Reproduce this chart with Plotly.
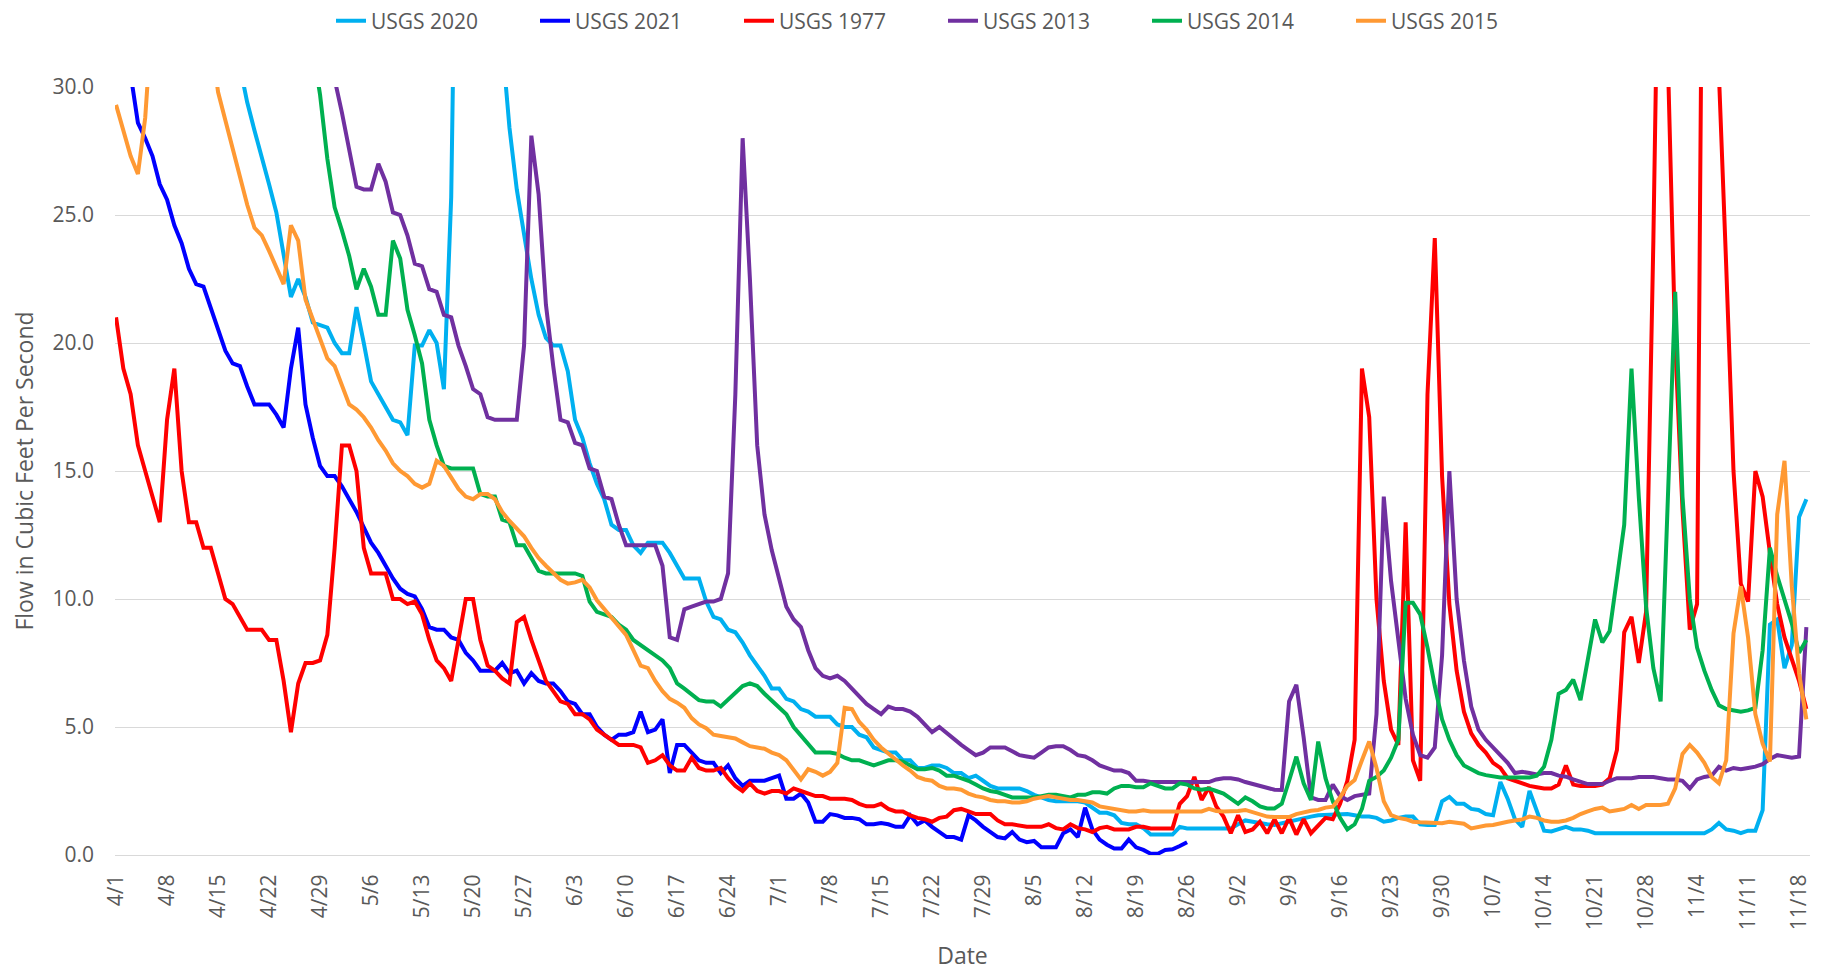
import pandas as pd
import plotly.graph_objects as go

# ---------------- data (daily flow, cfs) from 4/1 to 11/19 ----------------
start_date = "2021-04-01"
n_days = 233

usgs_2020 = [
    45, 44, 43, 42, 41, 40, 39, 40, 41, 39,
    38, 37, 36, 35, 34, 33, 32, 30.8, 29.4, 28.3,
    27.3, 26.2, 25.1, 23.4, 21.8, 22.5, 21.8, 20.8, 20.7, 20.6,
    20.0, 19.6, 19.6, 21.4, 20.0, 18.5, 18.0, 17.5, 17.0, 16.9,
    16.4, 19.9, 19.9, 20.5, 20.0, 18.2, 25.7, 45.0, 50.0, 47.0,
    42.0, 38.0, 35.0, 31.5, 28.4, 26.0, 24.2, 22.5, 21.1, 20.2,
    19.9, 19.9, 18.9, 17.0, 16.3, 15.3, 14.5, 13.9, 12.9, 12.7,
    12.7, 12.1, 11.8, 12.2, 12.2, 12.2, 11.8, 11.3, 10.8, 10.8,
    10.8, 9.9, 9.3, 9.2, 8.8, 8.7, 8.3, 7.8, 7.4, 7.0,
    6.5, 6.5, 6.1, 6.0, 5.7, 5.6, 5.4, 5.4, 5.4, 5.1,
    5.0, 5.0, 4.7, 4.6, 4.2, 4.1, 4.0, 4.0, 3.7, 3.7,
    3.4, 3.4, 3.5, 3.5, 3.4, 3.2, 3.2, 3.0, 3.1, 2.9,
    2.7, 2.6, 2.6, 2.6, 2.6, 2.5, 2.35, 2.25, 2.15, 2.1,
    2.1, 2.1, 2.1, 2.05, 1.85, 1.65, 1.65, 1.55, 1.25, 1.2,
    1.2, 1.05, 0.8, 0.8, 0.78, 0.8, 1.1, 1.04, 1.04, 1.04,
    1.04, 1.04, 1.04, 1.04, 1.2, 1.35, 1.3, 1.24, 1.2, 1.17,
    1.24, 1.3, 1.4, 1.43, 1.5, 1.55, 1.56, 1.56, 1.6, 1.6,
    1.55, 1.5, 1.5, 1.45, 1.3, 1.35, 1.45, 1.5, 1.5, 1.2,
    1.17, 1.17, 2.1, 2.27, 2.0, 2.0, 1.8, 1.76, 1.6, 1.55,
    2.85, 2.2, 1.4, 1.1, 2.5, 1.7, 0.95, 0.92, 1.0, 1.1,
    1.0, 1.0, 0.95, 0.85, 0.85, 0.85, 0.85, 0.85, 0.85, 0.85,
    0.85, 0.85, 0.85, 0.85, 0.85, 0.85, 0.85, 0.85, 0.85, 1.0,
    1.25, 1.0, 0.95, 0.85, 0.95, 0.95, 1.75, 9.0, 9.2, 7.3,
    8.2, 13.2, 13.9,
]

usgs_2021 = [
    34, 32.5, 30.5, 28.6, 28.0, 27.3, 26.2, 25.6, 24.6, 23.9,
    22.9, 22.3, 22.2, 21.4, 20.6, 19.7, 19.2, 19.1, 18.3, 17.6,
    17.6, 17.6, 17.2, 16.7, 19.0, 20.6, 17.6, 16.3, 15.2, 14.8,
    14.8, 14.4, 13.9, 13.4, 12.8, 12.2, 11.8, 11.3, 10.8, 10.4,
    10.2, 10.1, 9.6, 8.9, 8.8, 8.8, 8.5, 8.4, 7.9, 7.6,
    7.2, 7.2, 7.2, 7.5, 7.1, 7.2, 6.7, 7.1, 6.8, 6.7,
    6.7, 6.4, 6.0, 5.9, 5.5, 5.5, 5.0, 4.7, 4.5, 4.7,
    4.7, 4.8, 5.6, 4.8, 4.9, 5.3, 3.2, 4.3, 4.3, 4.0,
    3.7, 3.6, 3.6, 3.2, 3.5, 3.0, 2.7, 2.9, 2.9, 2.9,
    3.0, 3.1, 2.2, 2.2, 2.4, 2.05, 1.3, 1.3, 1.6, 1.55,
    1.45, 1.45, 1.4, 1.2, 1.2, 1.25, 1.2, 1.1, 1.1, 1.55,
    1.2, 1.35, 1.1, 0.9, 0.7, 0.7, 0.6, 1.55, 1.35, 1.1,
    0.9, 0.7, 0.65, 0.9, 0.6, 0.5, 0.55, 0.3, 0.3, 0.3,
    0.85, 1.0, 0.7, 1.85, 1.0, 0.6, 0.4, 0.25, 0.25, 0.6,
    0.3, 0.2, 0.05, 0.05, 0.2, 0.22, 0.35, 0.5,
]

usgs_1977 = [
    21.0, 19.0, 18.0, 16.0, 15.0, 14.0, 13.0, 17.0, 19.0, 15.0,
    13.0, 13.0, 12.0, 12.0, 11.0, 10.0, 9.8, 9.3, 8.8, 8.8,
    8.8, 8.4, 8.4, 6.8, 4.8, 6.7, 7.5, 7.5, 7.6, 8.6,
    12.0, 16.0, 16.0, 15.0, 12.0, 11.0, 11.0, 11.0, 10.0, 10.0,
    9.8, 9.9, 9.4, 8.4, 7.6, 7.3, 6.8, 8.4, 10.0, 10.0,
    8.4, 7.4, 7.2, 6.9, 6.7, 9.1, 9.3, 8.4, 7.6, 6.8,
    6.4, 6.0, 5.9, 5.5, 5.5, 5.3, 4.9, 4.7, 4.5, 4.3,
    4.3, 4.3, 4.2, 3.6, 3.7, 3.9, 3.5, 3.3, 3.3, 3.8,
    3.4, 3.3, 3.3, 3.4, 3.0, 2.7, 2.5, 2.8, 2.5, 2.4,
    2.5, 2.5, 2.4, 2.6, 2.5, 2.4, 2.3, 2.3, 2.2, 2.2,
    2.2, 2.15, 2.0, 1.9, 1.9, 2.0, 1.8, 1.7, 1.7, 1.55,
    1.45, 1.4, 1.3, 1.45, 1.5, 1.75, 1.8, 1.7, 1.6, 1.6,
    1.6, 1.35, 1.2, 1.2, 1.15, 1.1, 1.1, 1.1, 1.2, 1.05,
    1.0, 1.2, 1.05, 1.0, 0.9, 1.05, 1.1, 1.0, 1.0, 1.0,
    1.1, 1.1, 1.04, 1.04, 1.04, 1.04, 2.0, 2.3, 3.05, 2.15,
    2.65, 1.9, 1.5, 0.85, 1.55, 0.9, 1.0, 1.3, 0.85, 1.4,
    0.85, 1.45, 0.8, 1.4, 0.85, 1.15, 1.45, 1.4, 2.0, 2.9,
    4.5, 19.0, 17.1, 10.0, 6.8, 4.9, 4.3, 13.0, 3.7, 2.9,
    18.0, 24.1, 14.8, 9.8, 7.2, 5.6, 4.75, 4.3, 4.0, 3.6,
    3.4, 3.0, 2.9, 2.8, 2.7, 2.65, 2.6, 2.6, 2.75, 3.5,
    2.75, 2.7, 2.7, 2.7, 2.75, 3.0, 4.1, 8.7, 9.3, 7.5,
    9.5, 24.0, 42.0, 30.5, 20.0, 13.5, 8.8, 9.8, 48.0, 45.0,
    30.5, 23.0, 15.0, 10.6, 9.9, 15.0, 14.0, 11.8, 9.8, 8.5,
    7.6, 6.8, 5.7,
]

usgs_2013 = [
    60, 58, 57, 55, 54, 52, 50, 50, 49, 48,
    47, 46, 45, 44, 43, 42, 41, 40, 39, 38,
    37.5, 37, 36, 35, 34.5, 34, 33, 32.5, 32, 31.3,
    30.3, 29.0, 27.5, 26.1, 26.0, 26.0, 27.0, 26.3, 25.1, 25.0,
    24.2, 23.1, 23.0, 22.1, 22.0, 21.1, 21.0, 19.9, 19.1, 18.2,
    18.0, 17.1, 17.0, 17.0, 17.0, 17.0, 19.9, 28.1, 25.8, 21.5,
    19.1, 17.0, 16.9, 16.1, 16.0, 15.1, 15.0, 14.0, 13.9, 12.9,
    12.1, 12.1, 12.1, 12.1, 12.1, 11.3, 8.5, 8.4, 9.6, 9.7,
    9.8, 9.9, 9.9, 10.0, 11.0, 18.0, 28.0, 22.5, 16.0, 13.3,
    11.9, 10.8, 9.7, 9.2, 8.9, 8.0, 7.3, 7.0, 6.9, 7.0,
    6.8, 6.5, 6.2, 5.9, 5.7, 5.5, 5.8, 5.7, 5.7, 5.6,
    5.4, 5.1, 4.8, 5.0, 4.75, 4.5, 4.3, 4.1, 3.9, 4.0,
    4.2, 4.2, 4.2, 4.05, 3.9, 3.85, 3.8, 4.0, 4.2, 4.25,
    4.25, 4.1, 3.9, 3.85, 3.7, 3.5, 3.4, 3.3, 3.3, 3.2,
    2.9, 2.9, 2.85, 2.85, 2.85, 2.85, 2.85, 2.85, 2.85, 2.85,
    2.85, 2.95, 3.0, 3.0, 2.95, 2.85, 2.77, 2.7, 2.6, 2.55,
    2.54, 6.0, 6.65, 4.6, 2.25, 2.15, 2.15, 2.75, 2.3, 2.15,
    2.3, 2.35, 2.4, 5.5, 14.0, 10.7, 8.4, 6.1, 4.7, 3.9,
    3.8, 4.2, 7.8, 15.0, 10.0, 7.6, 5.8, 4.9, 4.5, 4.2,
    3.9, 3.6, 3.2, 3.25, 3.2, 3.15, 3.2, 3.2, 3.1, 3.06,
    2.95, 2.86, 2.77, 2.77, 2.77, 2.9, 3.0, 3.0, 3.0, 3.05,
    3.05, 3.05, 3.0, 2.95, 2.95, 2.9, 2.6, 2.95, 3.05, 3.1,
    3.45, 3.3, 3.4, 3.35, 3.4, 3.45, 3.55, 3.75, 3.9, 3.85,
    3.8, 3.85, 8.9,
]

usgs_2014 = [
    55, 54, 53, 52, 51, 50, 49, 48, 47, 46,
    45, 44, 43, 42, 41, 40, 39, 38, 37, 36.5,
    36, 35.5, 35, 34.5, 34, 33.5, 33, 31.5, 29.7, 27.2,
    25.3, 24.4, 23.4, 22.1, 22.9, 22.2, 21.1, 21.1, 24.0, 23.3,
    21.3, 20.3, 19.2, 17.0, 16.0, 15.2, 15.1, 15.1, 15.1, 15.1,
    14.1, 14.0, 14.0, 13.1, 13.0, 12.1, 12.1, 11.6, 11.1, 11.0,
    11.0, 11.0, 11.0, 11.0, 10.9, 9.9, 9.5, 9.4, 9.3, 9.0,
    8.8, 8.4, 8.2, 8.0, 7.8, 7.6, 7.3, 6.7, 6.5, 6.25,
    6.05, 6.0, 6.0, 5.8, 6.05, 6.35, 6.6, 6.7, 6.6, 6.3,
    6.05, 5.8, 5.5, 5.0, 4.65, 4.3, 4.0, 4.0, 4.0, 3.95,
    3.8, 3.7, 3.7, 3.6, 3.5, 3.6, 3.7, 3.7, 3.65, 3.5,
    3.35, 3.35, 3.4, 3.3, 3.1, 3.1, 3.0, 2.9, 2.75, 2.6,
    2.5, 2.45, 2.35, 2.25, 2.25, 2.25, 2.25, 2.3, 2.35, 2.35,
    2.3, 2.25, 2.35, 2.35, 2.45, 2.45, 2.4, 2.6, 2.7, 2.7,
    2.65, 2.65, 2.8, 2.7, 2.6, 2.6, 2.8, 2.75, 2.6, 2.55,
    2.6, 2.5, 2.4, 2.2, 2.0, 2.25, 2.1, 1.9, 1.82, 1.82,
    2.0, 2.9, 3.84, 2.8, 2.15, 4.43, 3.0, 2.1, 1.45, 1.0,
    1.2, 1.8, 2.9, 3.05, 3.3, 3.8, 4.5, 9.85, 9.85, 9.4,
    8.1, 6.6, 5.3, 4.5, 3.9, 3.5, 3.35, 3.2, 3.12, 3.06,
    3.03, 3.03, 3.03, 3.03, 3.03, 3.1, 3.45, 4.5, 6.3, 6.45,
    6.85, 6.05, 7.55, 9.2, 8.3, 8.75, 10.8, 12.9, 19.0, 14.0,
    9.7, 7.3, 6.0, 13.5, 22.0, 14.0, 10.0, 8.1, 7.2, 6.45,
    5.85, 5.7, 5.65, 5.6, 5.65, 5.75, 8.0, 12.0, 10.9, 10.0,
    9.05, 7.9, 8.4,
]

usgs_2015 = [
    29.3, 28.3, 27.3, 26.6, 28.8, 33, 36, 37, 38, 37,
    36, 35, 34, 32, 29.8, 28.7, 27.6, 26.4, 25.4, 24.5,
    24.2, 23.6, 22.9, 22.3, 24.6, 24.0, 21.7, 20.9, 20.2, 19.4,
    19.1, 18.3, 17.6, 17.4, 17.1, 16.7, 16.2, 15.8, 15.3, 15.0,
    14.8, 14.5, 14.35, 14.5, 15.4, 15.2, 14.75, 14.3, 14.0, 13.9,
    14.1, 14.1, 13.9, 13.4, 13.05, 12.75, 12.45, 12.0, 11.6, 11.3,
    11.0, 10.75, 10.6, 10.65, 10.75, 10.45, 9.95, 9.6, 9.3, 8.95,
    8.6, 8.0, 7.4, 7.3, 6.8, 6.4, 6.1, 5.95, 5.75, 5.35,
    5.1, 4.95, 4.7, 4.65, 4.6, 4.55, 4.4, 4.25, 4.2, 4.15,
    4.0, 3.9, 3.7, 3.3, 2.95, 3.35, 3.25, 3.1, 3.25, 3.6,
    5.75, 5.7, 5.2, 4.9, 4.5, 4.2, 3.95, 3.7, 3.5, 3.3,
    3.05, 2.95, 2.9, 2.7, 2.6, 2.6, 2.55, 2.4, 2.3, 2.25,
    2.15, 2.1, 2.1, 2.05, 2.05, 2.1, 2.2, 2.25, 2.3, 2.25,
    2.2, 2.15, 2.15, 2.1, 2.05, 1.9, 1.85, 1.8, 1.75, 1.7,
    1.7, 1.75, 1.7, 1.7, 1.7, 1.7, 1.7, 1.7, 1.7, 1.7,
    1.8, 1.72, 1.7, 1.7, 1.72, 1.76, 1.67, 1.6, 1.5, 1.48,
    1.47, 1.48, 1.6, 1.68, 1.73, 1.76, 1.85, 1.89, 2.25, 2.7,
    2.93, 3.7, 4.43, 3.4, 2.1, 1.56, 1.45, 1.4, 1.3, 1.28,
    1.26, 1.24, 1.24, 1.3, 1.27, 1.22, 1.04, 1.1, 1.15, 1.17,
    1.25, 1.3, 1.35, 1.39, 1.5, 1.45, 1.35, 1.3, 1.3, 1.35,
    1.45, 1.6, 1.7, 1.8, 1.85, 1.7, 1.75, 1.8, 1.95, 1.8,
    1.95, 1.95, 1.95, 2.0, 2.6, 3.95, 4.3, 4.0, 3.6, 3.05,
    2.8, 3.7, 8.65, 10.5, 8.5, 5.5, 4.35, 3.65, 13.3, 15.4,
    10.5, 7.1, 5.3,
]

series_names = ["USGS 2020", "USGS 2021", "USGS 1977", "USGS 2013", "USGS 2014", "USGS 2015"]
series_values = [usgs_2020, usgs_2021, usgs_1977, usgs_2013, usgs_2014, usgs_2015]
series_colors = ["#00B0F0", "#0000FF", "#FF0000", "#7030A0", "#00B050", "#FF9933"]

# ---------------- figure ----------------
dates = pd.date_range(start_date, periods=n_days, freq="D")

fig = go.Figure()
for name, vals, color in zip(series_names, series_values, series_colors):
    fig.add_trace(go.Scatter(
        x=dates[:len(vals)], y=vals, name=name, mode="lines",
        line=dict(color=color, width=4),
    ))

FONT = "Open Sans"
TXT = "#595959"
GRID = "#D9D9D9"

# the page adds an 8px body margin, so the figure is 8px smaller than the window
W, H = 1816, 963

x0 = pd.Timestamp(start_date) - pd.Timedelta(hours=3.5)
x1 = pd.Timestamp(start_date) + pd.Timedelta(days=232.5)

fig.update_layout(
    width=W, height=H,
    margin=dict(l=107, r=14, t=79, b=116, autoexpand=False),
    paper_bgcolor="white", plot_bgcolor="white",
    font=dict(family=FONT, color=TXT, size=21),
    showlegend=True,
    legend=dict(
        orientation="h",
        xref="container", yref="container",
        x=323 / W, xanchor="left",
        y=1 - 13 / H, yanchor="middle",
        font=dict(family=FONT, size=21, color=TXT),
        entrywidth=159, entrywidthmode="pixels",
        bgcolor="rgba(0,0,0,0)",
        traceorder="normal",
    ),
    xaxis=dict(
        type="date",
        range=[x0, x1],
        tick0=start_date, dtick=7 * 86400000,
        tickformat="%-m/%-d",
        tickangle=-90,
        tickfont=dict(family=FONT, size=21, color=TXT),
        ticks="", ticklabelstandoff=10,
        showgrid=False, zeroline=False,
        showline=True, linecolor=GRID, linewidth=1.3,
        automargin=False,
        title=dict(text="Date", font=dict(family=FONT, size=23, color=TXT), standoff=20),
    ),
    yaxis=dict(
        range=[0, 30], dtick=5, tick0=0,
        tickformat=".1f",
        tickfont=dict(family=FONT, size=21, color=TXT),
        ticks="", ticklabelstandoff=20,
        showgrid=True, gridcolor=GRID, gridwidth=1.3,
        zeroline=False, showline=False,
        automargin=False,
        title=dict(text="Flow in Cubic Feet Per Second",
                   font=dict(family=FONT, size=23, color=TXT), standoff=14),
    ),
)

fig.write_html("out.html")
